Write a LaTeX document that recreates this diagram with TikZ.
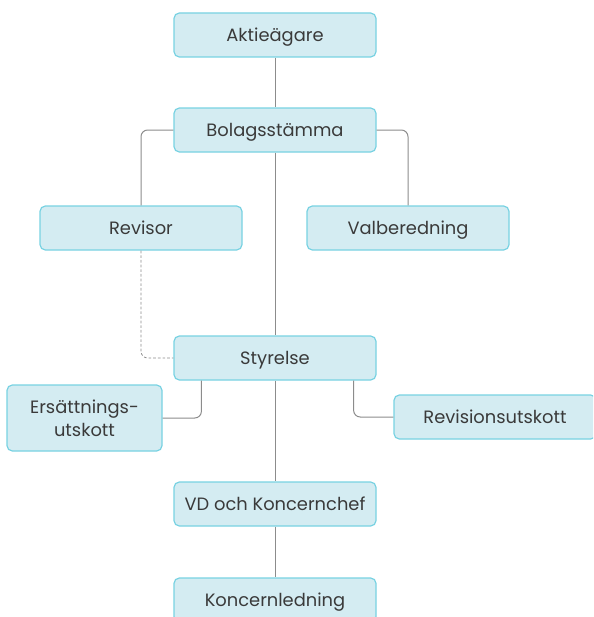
\documentclass[tikz,border=0pt]{standalone}
\usepackage{fontspec}
\setmainfont{Poppins}
\usepackage{tikz}
\usetikzlibrary{positioning,calc}
\usepackage{xcolor}
\definecolor{boxfill}{HTML}{D4ECF2}
\definecolor{boxline}{HTML}{78D2E2}
\definecolor{linkgray}{HTML}{8C8C8C}
\definecolor{textgray}{HTML}{3A3A3A}

\begin{document}
\begin{tikzpicture}[
    x=0.75pt, y=-0.75pt,
    boxStyle/.style={rectangle, rounded corners=4pt, draw=boxline, fill=boxfill, line width=0.9pt, font=\fontsize{13.4}{17}\selectfont, text=textgray, align=center, text height=2.2ex, text depth=0.3ex, minimum width=151.5pt, minimum height=33pt, inner sep=2pt},
    lineStyle/.style={draw=linkgray, line width=0.75pt, rounded corners=5pt},
    dashStyle/.style={draw=linkgray, line width=0.6pt, dashed, dash pattern=on 2pt off 1.5pt, rounded corners=5pt}
]
    \useasboundingbox (0,0) rectangle (593,617);
    \clip (0,0) rectangle (593,617);

    \node[boxStyle] (aktie) at (275, 35) {Aktieägare};
    \node[boxStyle] (stamma) at (275, 130) {Bolagsstämma};
    \node[boxStyle] (revisor) at (141, 228) {Revisor};
    \node[boxStyle] (valb) at (408, 228) {Valberedning};
    \node[boxStyle] (styrelse) at (275, 358) {Styrelse};
    \node[boxStyle, text height={}, text depth={}, minimum width=116.25pt, minimum height=49.5pt] (ersatt) at (84.5, 418) {Ersättnings-\\utskott};
    \node[boxStyle] (revutsk) at (495, 417) {Revisionsutskott};
    \node[boxStyle] (vd) at (275, 504) {VD och Koncernchef};
    \node[boxStyle] (ledning) at (275, 600) {Koncernledning};

    % Connectors
    \draw[lineStyle] (aktie) -- (stamma);
    \draw[lineStyle] (stamma.west) -| (revisor.north);
    \draw[lineStyle] (stamma.east) -| (valb.north);
    \draw[lineStyle] (stamma) -- (styrelse);
    \draw[dashStyle] (revisor.south) |- (styrelse.west);
    \draw[lineStyle] ($(styrelse.south west)+(28,0)$) |- (ersatt.east);
    \draw[lineStyle] ($(styrelse.south east)+(-23,0)$) |- (revutsk.west);
    \draw[lineStyle] (styrelse) -- (vd);
    \draw[lineStyle] (vd) -- (ledning);
\end{tikzpicture}
\end{document}
